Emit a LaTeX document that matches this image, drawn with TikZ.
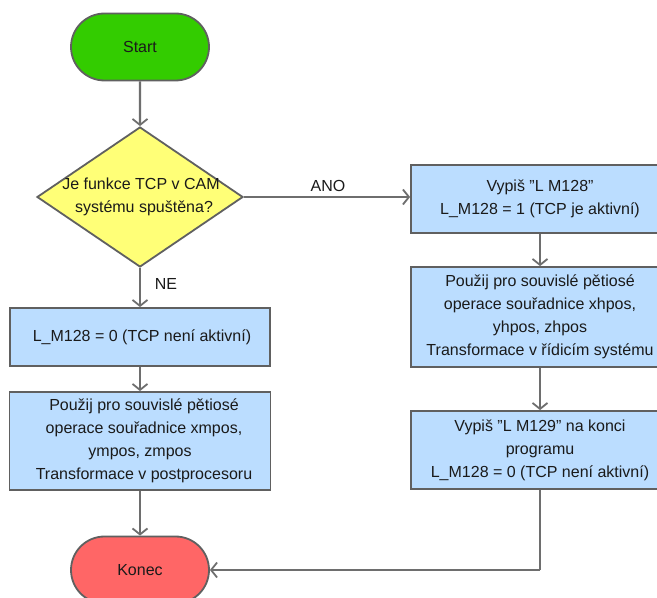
\documentclass[tikz,border=0pt]{standalone}
\usepackage{fontspec}
\setmainfont{Liberation Sans}
\usetikzlibrary{shapes.geometric,shapes.misc,arrows.meta}
\definecolor{startgreen}{HTML}{33CC00}
\definecolor{decyellow}{HTML}{FFFF77}
\definecolor{procblue}{HTML}{BBDDFF}
\definecolor{endred}{HTML}{FF6666}
\definecolor{bordergray}{HTML}{606060}
\definecolor{linegray}{HTML}{6E6E6E}
\definecolor{txtcol}{HTML}{1A1A1A}
\newcommand{\sq}{\char34\relax}
\tikzset{
  x=1pt,y=1pt,
  base/.style={draw=bordergray,line width=1.8pt,text=txtcol,font=\fontsize{16}{23}\selectfont,align=center,inner sep=0pt},
  term/.style={base,rounded rectangle,minimum width=138pt,minimum height=67pt},
  decbox/.style={base,diamond,fill=decyellow,minimum width=206pt,minimum height=140pt},
  procbox/.style={base,rectangle,fill=procblue},
  lbl/.style={text=txtcol,font=\fontsize{16}{23}\selectfont,align=center,inner sep=0pt},
  conn/.style={draw=linegray,line width=2.2pt,-{Straight Barb[length=6pt,width=15pt,line width=1.8pt]}},
  plain/.style={draw=linegray,line width=2.2pt}
}
\begin{document}
\begin{tikzpicture}
\clip (0,0) rectangle (657,598);
\fill[white] (0,0) rectangle (657,598);
\node[term,fill=startgreen] (start) at (140,551) {Start};
\node[decbox] (dec) at (140,401) {};
\node[lbl] (dectext) at (141,401) {Je funkce TCP v CAM\\\hspace*{6pt}systému spuštěna?};
\node[procbox,minimum width=258pt,minimum height=68pt] (r1) at (540,399) {Vypiš \sq L M128\sq\\L\_M128 = 1 (TCP je aktivní)};
\node[procbox,minimum width=258pt,minimum height=100pt] (r2) at (540,281) {Použij pro souvislé pětiosé\\operace souřadnice xhpos,\\yhpos, zhpos\\Transformace v řídicím systému};
\node[procbox,minimum width=258pt,minimum height=78pt] (r3) at (540,148) {Vypiš \sq L M129\sq{} na konci\\programu\\L\_M128 = 0 (TCP není aktivní)};
\node[procbox,minimum width=260pt,minimum height=58pt] (l1) at (140,261) {\hspace*{4pt}L\_M128 = 0 (TCP není aktivní)};
\node[procbox,minimum width=261pt,minimum height=98pt] (l2) at (140,157) {\hspace*{8pt}Použij pro souvislé pětiosé\\\hspace*{8pt}operace souřadnice xmpos,\\ympos, zmpos\\\hspace*{8pt}Transformace v postprocesoru};
\node[term,fill=endred] (end) at (140,28) {Konec};
\coordinate (corner) at (540,28);
\node[lbl] (ano) at (328,412) {ANO};
\node[lbl] (ne) at (166,314) {NE};
\draw[conn] (start) -- (dec);
\draw[conn] (dec.east) -- (dec.east -| r1.west);
\draw[conn] (dec) -- (l1);
\draw[conn] (r1) -- (r2);
\draw[conn] (r2) -- (r3);
\draw[conn] (l1) -- (l2);
\draw[conn] (l2) -- (end);
\draw[plain] (r3.south) -- (corner);
\draw[conn] (corner) -- (end.east);
\end{tikzpicture}
\end{document}
